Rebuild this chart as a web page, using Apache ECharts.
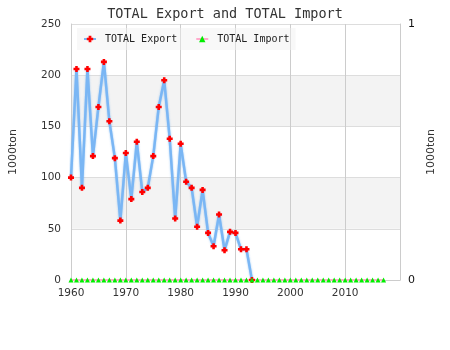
<!DOCTYPE html>
<html>
<head>
<meta charset="utf-8">
<script src="https://cdn.jsdelivr.net/npm/echarts@6/dist/echarts.min.js"></script>
<style>html,body{margin:0;padding:0;background:#fff;}#c{width:450px;height:350px;}</style>
</head>
<body>
<div id="c"></div>
<script>
var titleText = 'TOTAL Export and TOTAL Import';
var seriesNames = ['TOTAL Export', 'TOTAL Import'];
var unitName = '1000ton';
var exportYears = [1960,1961,1962,1963,1964,1965,1966,1967,1968,1969,1970,1971,1972,1973,1974,1975,1976,1977,1978,1979,1980,1981,1982,1983,1984,1985,1986,1987,1988,1989,1990,1991,1992,1993];
var exportValues = [100,206,90,206,121,169,213,155,119,58,124,79,135,86,90,121,169,195,138,60,133,96,90,52,88,46,33,64,29,47,46,30,30,0];
var importYears = [1960,1961,1962,1963,1964,1965,1966,1967,1968,1969,1970,1971,1972,1973,1974,1975,1976,1977,1978,1979,1980,1981,1982,1983,1984,1985,1986,1987,1988,1989,1990,1991,1992,1993,1994,1995,1996,1997,1998,1999,2000,2001,2002,2003,2004,2005,2006,2007,2008,2009,2010,2011,2012,2013,2014,2015,2016,2017];
var importValues = [0,0,0,0,0,0,0,0,0,0,0,0,0,0,0,0,0,0,0,0,0,0,0,0,0,0,0,0,0,0,0,0,0,0,0,0,0,0,0,0,0,0,0,0,0,0,0,0,0,0,0,0,0,0,0,0,0,0];

function pairs(xs, ys){ return xs.map(function(x,i){ return [x, ys[i]]; }); }

var plus = 'path://M2,0H5V2H7V5H5V7H2V5H0V2H2Z';
var chart = echarts.init(document.getElementById('c'), null, {renderer:'canvas'});
chart.setOption({
  animation: false,
  title: {
    text: titleText, left: 'center', top: 2,
    textStyle: {fontFamily: 'DejaVu Sans Mono', fontSize: 13.5, fontWeight: 'normal', color: '#333'}
  },
  legend: {
    left: 77, top: 28, padding: [6, 6], itemGap: 18, itemWidth: 12, itemHeight: 8,
    backgroundColor: 'rgba(240,240,240,0.45)',
    textStyle: {fontFamily: 'DejaVu Sans Mono', fontSize: 10, color: '#222', padding: [0, 0, 0, 4]},
    data: seriesNames
  },
  grid: {left: 70, right: 50, top: 24, bottom: 70},
  xAxis: {
    type: 'value', min: 1960, max: 2020, interval: 10,
    axisLine: {show: true, lineStyle: {color: '#ccc'}},
    axisTick: {show: false},
    axisLabel: {color: '#333', fontSize: 10.5, margin: 8, showMaxLabel: false,
      fontFamily: 'DejaVu Sans', formatter: function(v){ return String(v); }},
    splitLine: {show: true, lineStyle: {color: '#ccc'}}
  },
  yAxis: [{
    type: 'value', min: 0, max: 250, interval: 50,
    name: unitName, nameLocation: 'middle', nameGap: 52,
    nameTextStyle: {color: '#333', fontSize: 11, fontFamily: 'DejaVu Sans'},
    axisLine: {show: true, lineStyle: {color: '#ccc'}},
    axisTick: {show: false},
    axisLabel: {color: '#333', fontSize: 10.5, margin: 10, fontFamily: 'DejaVu Sans'},
    splitLine: {show: true, lineStyle: {color: '#ddd'}},
    splitArea: {show: true, areaStyle: {color: ['#ffffff', '#f3f3f3']}}
  }, {
    type: 'value', min: 0, max: 1, interval: 1, position: 'right',
    name: unitName, nameLocation: 'middle', nameGap: 25,
    nameTextStyle: {color: '#333', fontSize: 11, fontFamily: 'DejaVu Sans'},
    axisLine: {show: true, lineStyle: {color: '#ccc'}},
    axisTick: {show: false},
    axisLabel: {color: '#111', fontSize: 11, margin: 8, fontFamily: 'DejaVu Sans'},
    splitLine: {show: false}
  }],
  series: [{
    name: seriesNames[0], type: 'line', yAxisIndex: 0,
    data: pairs(exportYears, exportValues),
    symbol: plus, symbolSize: 6, showAllSymbol: true,
    itemStyle: {color: '#ff0000'},
    lineStyle: {color: '#7ab6f4', width: 2.5, shadowColor: 'rgba(110,175,240,0.7)', shadowBlur: 2}
  }, {
    name: seriesNames[1], type: 'line', yAxisIndex: 1,
    data: pairs(importYears, importValues),
    symbol: 'triangle', symbolSize: 5, showAllSymbol: true,
    itemStyle: {color: '#00ee00'},
    lineStyle: {color: '#ffaacc', width: 2}
  }]
});
</script>
</body>
</html>
